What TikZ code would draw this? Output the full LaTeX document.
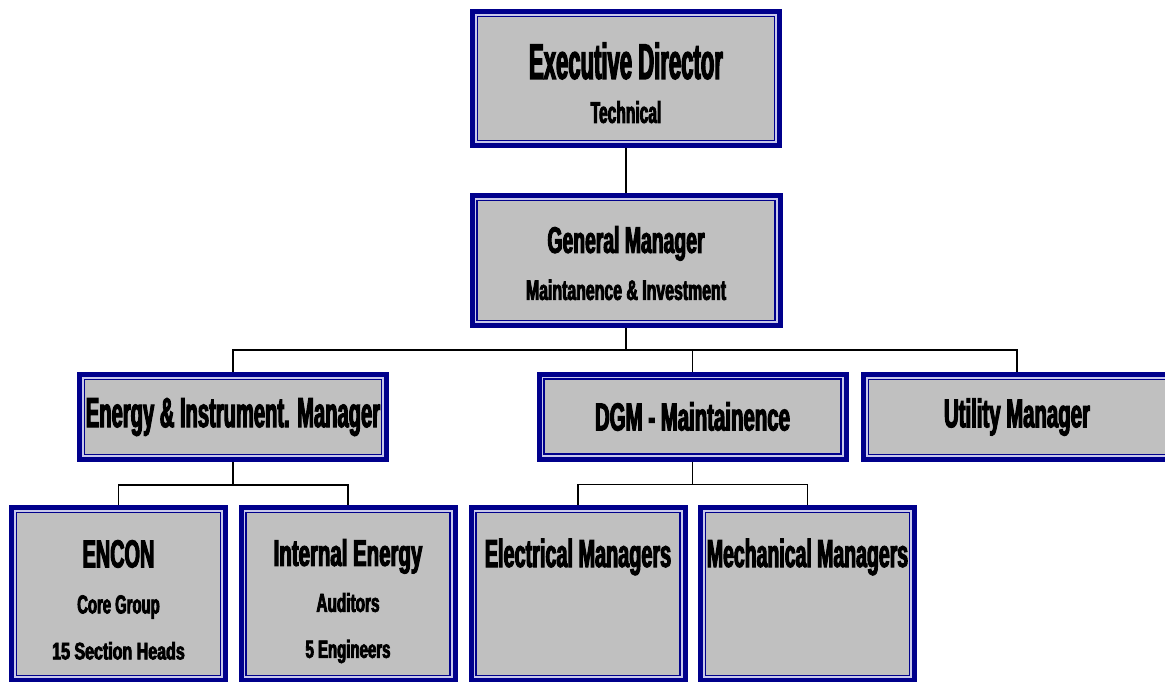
\documentclass[tikz,border=0pt]{standalone}
\usepackage{fontspec}
\newfontfamily\orgfont{Liberation Sans}[FakeStretch=0.48,FakeBold=2.6]
\usepackage{xcolor}
\usepackage{graphicx}
\usepackage{tikz}
\definecolor{boxnavy}{RGB}{0,0,140}
\definecolor{boxgap}{RGB}{200,200,235}
\definecolor{boxfill}{RGB}{192,192,192}
\newcommand{\stretchx}[2]{\scalebox{#1}[1]{#2}}

\begin{document}
\begin{tikzpicture}[x=1pt,y=-1pt,
  orgbox/.style={rectangle, draw=boxnavy, line width=5pt, fill=boxfill, align=center, inner sep=0pt,
    path picture={
      \draw[boxgap, line width=1.9pt] ([shift={(3.4pt,-3.4pt)}]path picture bounding box.north west) rectangle ([shift={(-3.4pt,3.4pt)}]path picture bounding box.south east);
      \draw[boxnavy, line width=1.3pt] ([shift={(5pt,-5pt)}]path picture bounding box.north west) rectangle ([shift={(-5pt,5pt)}]path picture bounding box.south east);
    }},
  link/.style={draw=black, line width=1.3pt}]
\useasboundingbox (0,0) rectangle (1165,681);
\node[orgbox, minimum width=307pt, minimum height=134pt, font=\orgfont\bfseries\fontsize{50}{44}\selectfont] (exec) at (626,78.5) {\rule{0pt}{45pt}\stretchx{0.92}{Executive Director}\\{\fontsize{30}{44}\selectfont\stretchx{1.08}{Technical}}};
\node[orgbox, minimum width=308pt, minimum height=130pt, font=\orgfont\bfseries\fontsize{37}{47}\selectfont] (gm) at (626,260.5) {\rule{0pt}{32pt}\stretchx{1.09}{General Manager}\\{\fontsize{28}{47}\selectfont\stretchx{1.18}{Maintanence \& Investment}}};
\node[orgbox, minimum width=307pt, minimum height=85pt, font=\orgfont\bfseries\fontsize{42}{46}\selectfont] (eim) at (233,417) {Energy \& Instrument. Manager};
\node[orgbox, minimum width=307pt, minimum height=85pt, font=\orgfont\bfseries\fontsize{39}{46}\selectfont] (dgm) at (692.5,416.5) {\stretchx{1.09}{DGM - Maintainence}};
\node[orgbox, minimum width=307pt, minimum height=85pt, font=\orgfont\bfseries\fontsize{40}{46}\selectfont] (util) at (1017,417) {\stretchx{1.06}{Utility Manager}};
\node[orgbox, minimum width=214pt, minimum height=173pt, font=\orgfont\bfseries\fontsize{39}{46}\selectfont] (encon) at (118.5,594) {\rule{0pt}{39pt}\stretchx{1.06}{ENCON}\\{\fontsize{26}{47}\selectfont\stretchx{1.19}{Core Group}}\\{\fontsize{24}{45}\selectfont\stretchx{1.39}{15 Section Heads}}};
\node[orgbox, minimum width=214pt, minimum height=173pt, font=\orgfont\bfseries\fontsize{37}{46}\selectfont] (iea) at (348,594) {\rule{0pt}{41pt}\stretchx{1.15}{Internal Energy}\\{\fontsize{26}{46}\selectfont\stretchx{1.23}{Auditors}}\\{\fontsize{25}{46}\selectfont\stretchx{1.25}{5 Engineers}}};
\node[orgbox, minimum width=214pt, minimum height=173pt, inner ysep=10pt, text height=49.5pt, text depth=103.5pt, font=\orgfont\bfseries\fontsize{39}{46}\selectfont] (elec) at (578,594) {\stretchx{1.06}{Electrical Managers}};
\node[orgbox, minimum width=214pt, minimum height=173pt, inner ysep=10pt, text height=49.5pt, text depth=103.5pt, font=\orgfont\bfseries\fontsize{39}{46}\selectfont] (mech) at (807.5,594) {\stretchx{1.04}{Mechanical Managers}};
\draw[link] (exec) -- (gm);
\draw[link] (gm.south) -- ++(0,22) coordinate (gmbar);
\draw[link] (eim.north) |- (gmbar) -| (util.north);
\draw[link] (gmbar) -| (dgm.north);
\draw[link] (eim.south) -- ++(0,23) coordinate (eimbar);
\draw[link] (encon.north) |- (eimbar) -| (iea.north);
\draw[link] (dgm.south) -- ++(0,23) coordinate (dgmbar);
\draw[link] (elec.north) |- (dgmbar) -| (mech.north);
\end{tikzpicture}
\end{document}
